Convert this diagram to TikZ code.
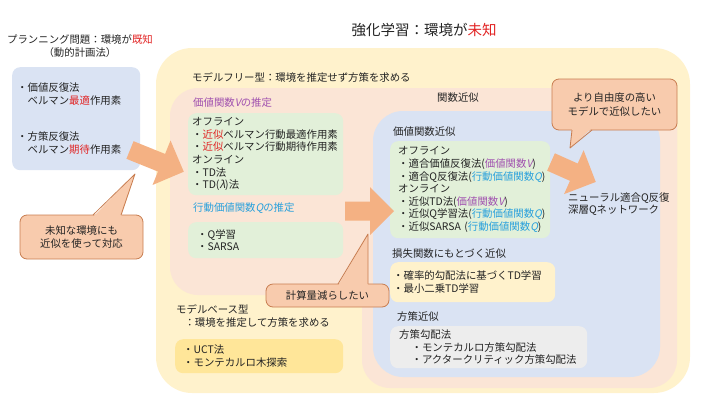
\documentclass[tikz,border=0pt]{standalone}
\usepackage{fontspec}
\setmainfont{Noto Sans CJK JP}[AutoFakeSlant=0.2]
\usetikzlibrary{calc}

\definecolor{bgyellow}{RGB}{255,242,204}
\definecolor{bgpink}{RGB}{251,229,214}
\definecolor{bgblue}{RGB}{218,227,243}
\definecolor{boxgreen}{RGB}{226,240,217}
\definecolor{boxyellow}{RGB}{255,230,153}
\definecolor{boxgray}{RGB}{237,237,237}
\definecolor{arrowor}{RGB}{244,177,131}
\definecolor{callfill}{RGB}{248,203,173}
\definecolor{callline}{RGB}{200,125,80}
\definecolor{vpurple}{RGB}{160,80,175}
\definecolor{qcyan}{RGB}{40,160,220}
\definecolor{hilite}{RGB}{225,35,35}
\definecolor{ink}{RGB}{35,35,35}

\tikzset{
  pics/fatarrow/.style={code={
    \fill[arrowor] (0,-9.5) -- (#1-24,-9.5) -- (#1-24,-24) -- (#1,0) -- (#1-24,24) -- (#1-24,9.5) -- (0,9.5) -- cycle;}}
}

\begin{document}
\begin{tikzpicture}[x=1pt,y=-1pt,font=\fontsize{10.4}{12.6}\selectfont,text=ink,
  lbl/.style={anchor=west,inner sep=0pt},
  box/.style={anchor=north west,rounded corners=8pt,align=left,inner ysep=0pt},
  callout/.style={fill=callfill,draw=callline,line width=0.8pt,rounded corners=7pt,align=center,inner sep=0pt},
  tail/.style={draw=callline,line width=0.8pt,line join=round}]
  \useasboundingbox (0,0) rectangle (720,405);
  % regions
  \fill[bgyellow,rounded corners=36pt] (156,48) rectangle (690,393);
  \fill[bgpink,rounded corners=28pt] (170,88) rectangle (677,295);
  \fill[bgpink,rounded corners=28pt] (362,88) rectangle (677,388);
  \fill[bgblue,rounded corners=30pt] (373,111) rectangle (660,377);

  \node (title) at (424,30) {\fontsize{14.5}{16}\selectfont 強化学習：環境が\textcolor{hilite}{未知}};
  \node[align=center,inner sep=0pt] (plan) at (80,46) {プランニング問題：環境が\textcolor{hilite}{既知}\\（動的計画法）};
  \node[box,fill=bgblue,minimum width=128,minimum height=103,text width=118pt,inner xsep=5pt] (dp) at (12,67)
    {・価値反復法\\\hspace*{1em}ベルマン\textcolor{hilite}{最適}作用素\\[24pt]・方策反復法\\\hspace*{1em}ベルマン\textcolor{hilite}{期待}作用素};

  % model free
  \node[lbl] (mfree) at (192,78) {モデルフリー型：環境を推定せず方策を求める};
  \node[lbl,text=vpurple] (vlab) at (193,103) {価値関数\textit{V}の推定};
  \node[box,fill=boxgreen,minimum width=155,minimum height=82,text width=147pt,inner xsep=4pt] (vest) at (188,113)
    {オフライン\\・\textcolor{hilite}{近似}ベルマン行動最適作用素\\・\textcolor{hilite}{近似}ベルマン行動期待作用素\\オンライン\\・TD法\\・TD(\textit{λ})法};
  \node[lbl,text=qcyan] (qlab) at (193,208) {行動価値関数\textit{Q}の推定};
  \node[box,fill=boxgreen,minimum width=155,minimum height=36,text width=137pt,inner xsep=9pt] (qest) at (188,222)
    {・Q学習\\・SARSA};

  % model based
  \node[lbl,align=left] (mbase) at (176,316) {モデルベース型\\\hspace*{0.8em}：環境を推定して方策を求める};
  \node[box,fill=boxyellow,minimum width=168,minimum height=34,text width=152pt,inner xsep=8pt] (mbox) at (175,339)
    {・UCT法\\・モンテカルロ木探索};

  % function approximation
  \node (fa) at (458,98) {関数近似};
  \node[lbl] (vfa) at (393,132) {価値関数近似};
  \node[box,fill=boxgreen,minimum width=160,minimum height=97,text width=144pt,inner xsep=8pt] (vapp) at (390,141)
    {オフライン\\・適合価値反復法(\textcolor{vpurple}{価値関数\textit{V}})\\・適合Q反復法(\textcolor{qcyan}{行動価値関数\textit{Q}})\\オンライン\\・近似TD法(\textcolor{vpurple}{価値関数\textit{V}})\\・近似Q学習法(\textcolor{qcyan}{行動価値関数\textit{Q}})\\・近似SARSA (\textcolor{qcyan}{行動価値関数\textit{Q}})};
  \node[lbl] (loss) at (392,254) {損失関数にもとづく近似};
  \node[box,fill=bgyellow,minimum width=165,minimum height=40,text width=159pt,inner xsep=3pt] (lbox) at (390,262)
    {・確率的勾配法に基づくTD学習\\・最小二乗TD学習};
  \node[lbl] (pol) at (397,317) {方策近似};
  \node[box,fill=boxgray,minimum width=197,minimum height=42,text width=179pt,inner xsep=9pt] (pbox) at (390,326)
    {方策勾配法\\\hspace*{1.2em}・モンテカルロ方策勾配法\\\hspace*{1.2em}・アクタークリティック方策勾配法};
  \node[lbl,align=left] (nfq) at (568,204) {ニューラル適合Q反復\\深層Qネットワーク};

  % arrows
  \pic[rotate=-22] (a1) at (130,150) {fatarrow=58};
  \pic (a2) at (345,211) {fatarrow=49};
  \pic[rotate=-24] (a3) at (551,162) {fatarrow=49};

  % callouts
  \node[callout,minimum width=123,minimum height=44] (co1) at (81.5,237) {未知な環境にも\\近似を使って対応};
  \fill[callfill] (93,217) -- (135,174) -- (121,217) -- cycle;
  \draw[tail] (93,215) -- (135,174) -- (121,215);
  \node[callout,minimum width=125,minimum height=51] (co2) at (614.5,104.5) {より自由度の高い\\[2pt]モデルで近似したい};
  \fill[callfill] (572,128) -- (570,148) -- (592,128) -- cycle;
  \draw[tail] (572,130) -- (570,148) -- (592,130);
  \node[callout,minimum width=123,minimum height=23] (co3) at (327.5,295.5) {計算量減らしたい};
  \fill[callfill] (338,286) -- (368,234) -- (368,286) -- cycle;
  \draw[tail] (338,284) -- (368,234) -- (368,284);
\end{tikzpicture}
\end{document}
